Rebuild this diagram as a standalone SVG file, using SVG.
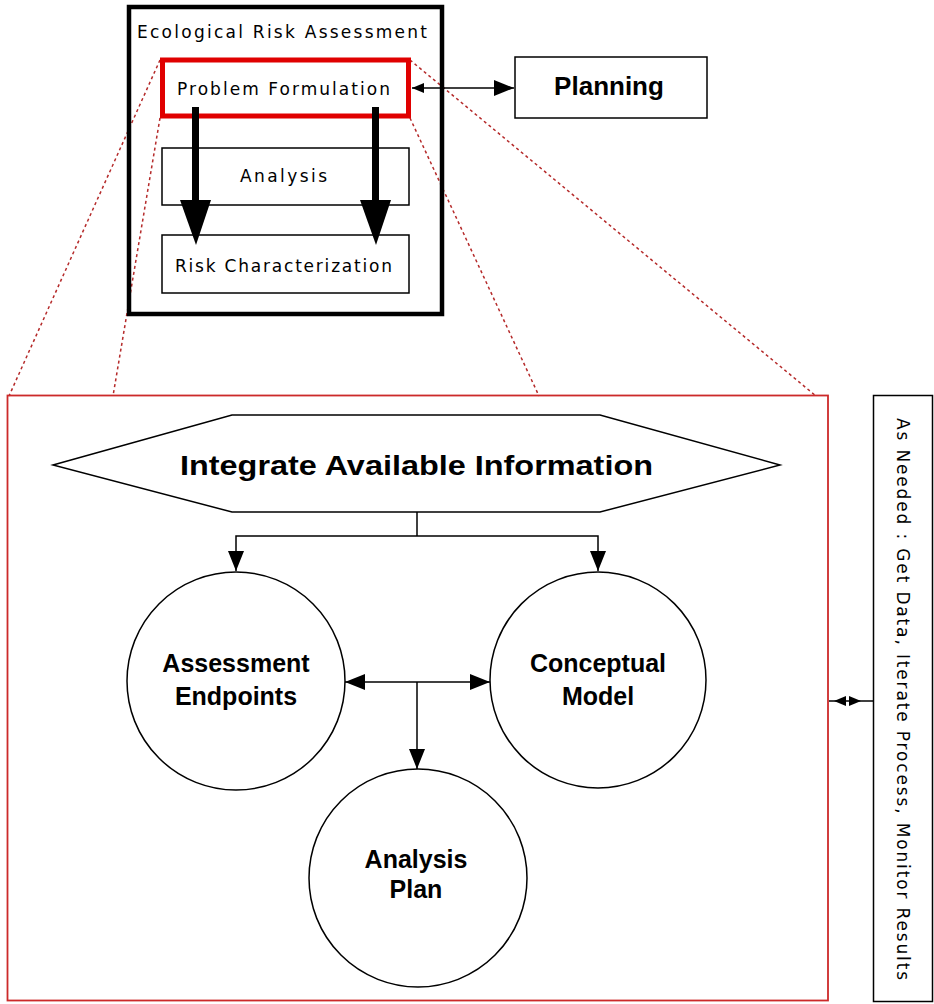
<svg xmlns="http://www.w3.org/2000/svg" width="934" height="1004" viewBox="0 0 934 1004">
<defs>
<style>
.box{fill:#fff;stroke:#000;stroke-width:1.5}
.thin{fill:none;stroke:#000;stroke-width:1.5}
.zoom{fill:none;stroke:#b52a2a;stroke-width:1.5;stroke-dasharray:3,3}
.t{font-family:"DejaVu Sans","Liberation Sans",Arial,sans-serif;font-size:17px;fill:#000}
.b{font-family:"Liberation Sans",Arial,sans-serif;font-weight:bold;fill:#000}
</style>
<marker id="ah" viewBox="0 0 20 16" refX="20" refY="8" markerWidth="20" markerHeight="16" markerUnits="userSpaceOnUse" orient="auto-start-reverse">
<path d="M0,0 L20,8 L0,16 Z" fill="#000"/>
</marker>
<marker id="sm" viewBox="0 0 12 10" refX="12" refY="5" markerWidth="12" markerHeight="10" markerUnits="userSpaceOnUse" orient="auto-start-reverse">
<path d="M0,0 L12,5 L0,10 Z" fill="#000"/>
</marker>
</defs>
<rect width="934" height="1004" fill="#fff"/>

<g id="zoom-lines">
<line class="zoom" x1="160" y1="60" x2="9" y2="396"/>
<line class="zoom" x1="160" y1="118" x2="113" y2="396"/>
<line class="zoom" x1="410" y1="60" x2="816" y2="396"/>
<line class="zoom" x1="410" y1="118" x2="539" y2="396"/>
</g>

<g id="era">
<rect x="129" y="7" width="313" height="307" fill="none" stroke="#000" stroke-width="4.5"/>
<text class="t" x="137" y="38" textLength="290" lengthAdjust="spacing">Ecological Risk Assessment</text>
</g>

<g id="problem-formulation">
<rect x="162.5" y="60" width="246" height="56" fill="#fff" stroke="#e00000" stroke-width="5"/>
<text class="t" x="177" y="95" textLength="213" lengthAdjust="spacing">Problem Formulation</text>
</g>

<g id="analysis">
<rect class="box" x="162" y="148" width="247" height="57"/>
<text class="t" x="240" y="182" textLength="87" lengthAdjust="spacing">Analysis</text>
</g>

<g id="risk-characterization">
<rect class="box" x="162" y="235" width="247" height="58"/>
<text class="t" x="175" y="272" textLength="217" lengthAdjust="spacing">Risk Characterization</text>
</g>

<g id="planning">
<rect class="box" x="515" y="57" width="192" height="61"/>
<text class="b" x="609" y="95" font-size="26" text-anchor="middle">Planning</text>
</g>

<g id="integrate">
<polygon class="box" points="53,465 232,415 600,415 780,465 600,512 232,512"/>
<text class="b" x="180" y="475" font-size="27" textLength="473" lengthAdjust="spacingAndGlyphs">Integrate Available Information</text>
</g>

<g id="assessment-endpoints">
<circle class="box" cx="236" cy="681" r="109"/>
<text class="b" x="236" y="672" font-size="25" text-anchor="middle">Assessment</text>
<text class="b" x="236" y="705" font-size="25" text-anchor="middle">Endpoints</text>
</g>

<g id="conceptual-model">
<circle class="box" cx="598" cy="680" r="108"/>
<text class="b" x="598" y="672" font-size="25" text-anchor="middle">Conceptual</text>
<text class="b" x="598" y="705" font-size="25" text-anchor="middle">Model</text>
</g>

<g id="analysis-plan">
<circle class="box" cx="418" cy="878" r="109"/>
<text class="b" x="416" y="868" font-size="25" text-anchor="middle">Analysis</text>
<text class="b" x="416" y="898" font-size="25" text-anchor="middle">Plan</text>
</g>

<g id="problem-formulation-detail">
<rect x="7.5" y="395.5" width="820.5" height="605" fill="none" stroke="#cc2a2a" stroke-width="1.8"/>
</g>

<g id="as-needed">
<rect class="box" x="873.5" y="395.5" width="59" height="606"/>
<text class="t" transform="translate(897,418) rotate(90)" x="0" y="0" font-size="18" textLength="562" lengthAdjust="spacing">As Needed : Get Data, Iterate Process, Monitor Results</text>
</g>

<g id="connectors">
<rect x="192" y="107" width="7" height="95" fill="#000"/>
<polygon points="180,200 211,200 196,245" fill="#000"/>
<rect x="372" y="107" width="7" height="95" fill="#000"/>
<polygon points="360,200 391,200 376,245" fill="#000"/>
<line class="thin" x1="412" y1="88" x2="514" y2="88" marker-start="url(#sm)" marker-end="url(#ah)"/>
<polyline class="thin" points="417,512 417,536"/>
<polyline class="thin" points="236,571 236,536 598,536 598,571" marker-start="url(#ah)" marker-end="url(#ah)"/>
<line class="thin" x1="345" y1="682" x2="490" y2="682" marker-start="url(#ah)" marker-end="url(#ah)"/>
<line class="thin" x1="417" y1="682" x2="417" y2="769" marker-end="url(#ah)"/>
<line class="thin" x1="829" y1="701" x2="873" y2="701"/>
<polygon points="834,701 846,696 846,706" fill="#000"/>
<polygon points="861,701 849,696 849,706" fill="#000"/>
</g>
</svg>
